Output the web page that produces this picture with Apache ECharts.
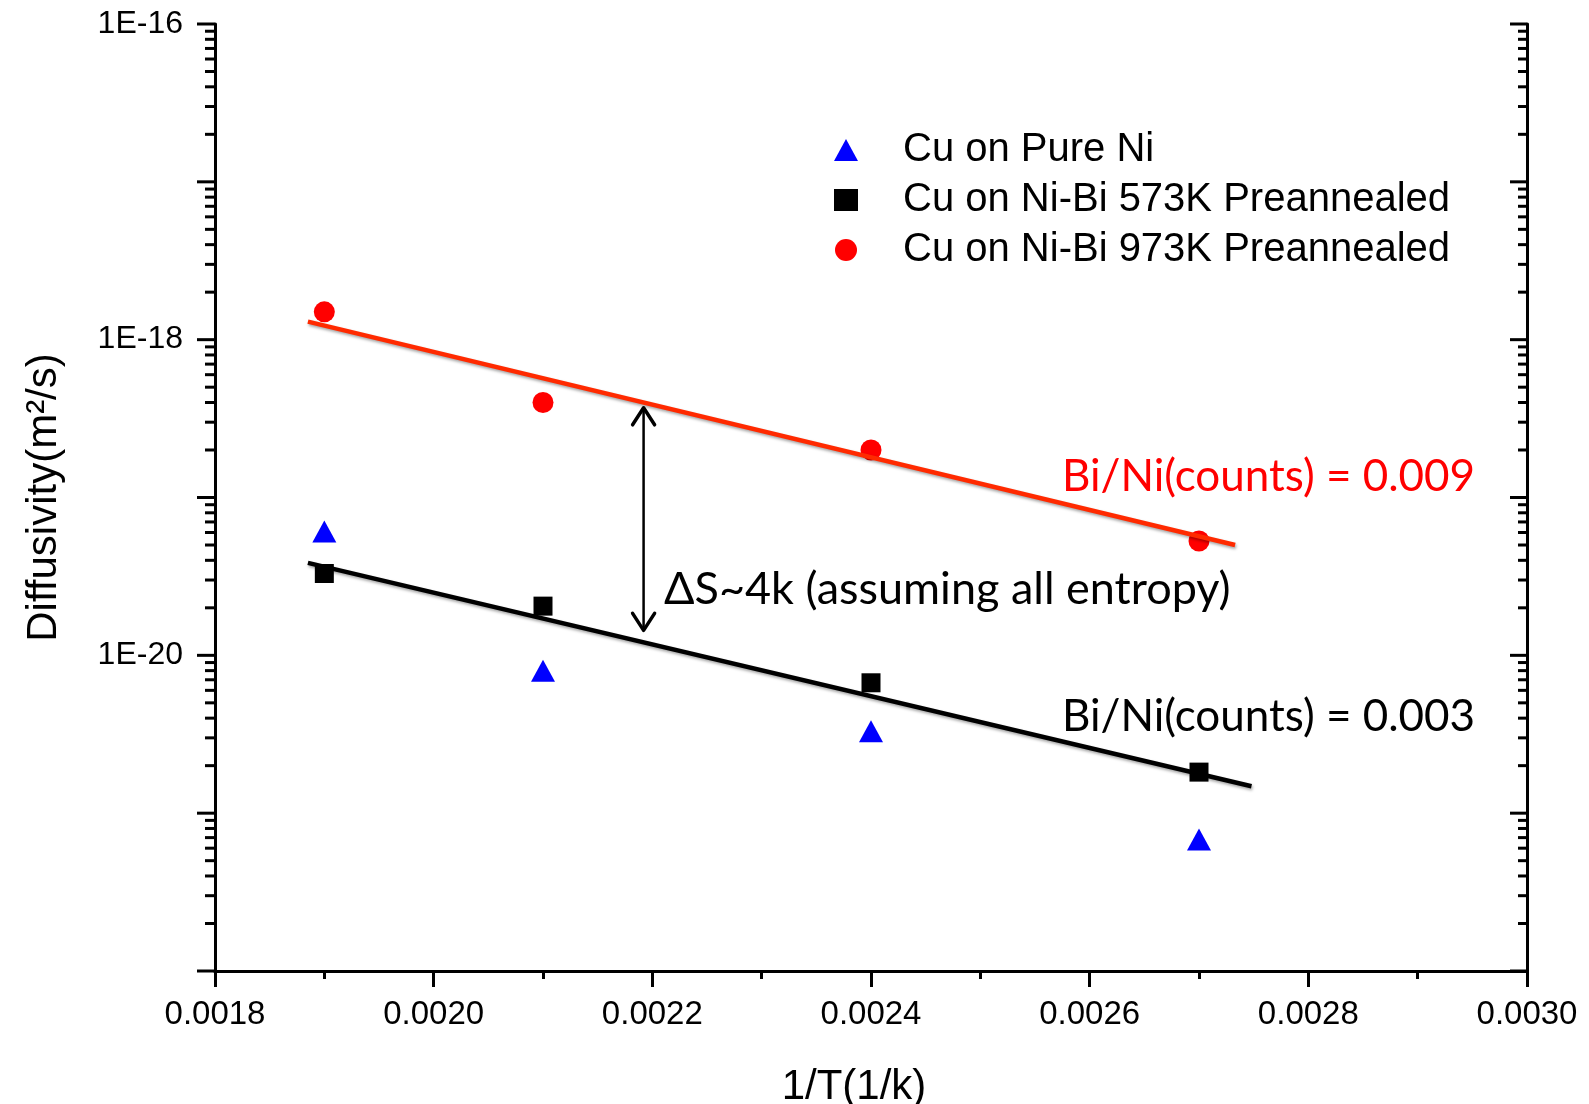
<!DOCTYPE html>
<html>
<head>
<meta charset="utf-8">
<title>Diffusivity vs 1/T</title>
<script src="https://cdn.jsdelivr.net/npm/echarts@6/dist/echarts.min.js"></script>
<style>
  html, body { margin: 0; padding: 0; background: #fff; }
  #chart { width: 1589px; height: 1104px; }
</style>
</head>
<body>
<div id="chart"></div>
<script>
// measured points, x = 1/T (1/K), y = diffusivity (m^2/s)
var invT = [0.0019, 0.0021, 0.0024, 0.0027];
var pureNi = [6.1e-20, 8.0e-21, 3.3e-21, 6.8e-22];
var niBi573 = [3.3e-20, 2.05e-20, 6.7e-21, 1.82e-21];
var niBi973 = [1.5e-18, 4.0e-19, 2.0e-19, 5.3e-20];

// fitted lines, read as end points
var fit973 = [[0.001885, 1.3e-18], [0.002733, 5.0e-20]];
var fit573 = [[0.001885, 3.85e-20], [0.002748, 1.48e-21]];

// the double arrow between the fits: x, top, bottom
var gapArrow = [[0.002192, 3.7e-19, 1.44e-20]];

var xMin = 0.0018, xMax = 0.0030, xStep = 0.0002;
var yMinExp = -22, yMaxExp = -16;

var FONT = '"Liberation Sans", Arial, sans-serif';
var NOTE_FONT = '44px Lato, "Open Sans", sans-serif';

function pairs(xs, ys) {
  return xs.map(function (x, i) { return [x, ys[i]]; });
}

// log ticks: every decade is a long tick, 2..9 are short ones
var yTicks = [];
for (var e = yMinExp; e <= yMaxExp; e++) {
  yTicks.push([xMin, Math.pow(10, e), 1]);
  if (e < yMaxExp) {
    for (var m = 2; m <= 9; m++) yTicks.push([xMin, m * Math.pow(10, e), 0]);
  }
}

var chart = echarts.init(document.getElementById('chart'));

var option = {
  animation: false,
  backgroundColor: '#fff',
  grid: { left: 215, right: 62, top: 24, bottom: 133, containLabel: false, outerBoundsMode: 'none' },
  legend: {
    orient: 'vertical',
    left: 829,
    top: 125,
    itemWidth: 24,
    itemHeight: 22,
    itemGap: 10,
    textStyle: { fontFamily: FONT, fontSize: 40, color: '#000', padding: [0, 0, 0, 40] },
    data: ['Cu on Pure Ni', 'Cu on Ni-Bi 573K Preannealed', 'Cu on Ni-Bi 973K Preannealed']
  },
  xAxis: [
    {
      type: 'value',
      position: 'bottom',
      min: xMin, max: xMax, interval: xStep,
      name: '1/T(1/k)',
      nameLocation: 'middle',
      nameGap: 95,
      nameMoveOverlap: false,
      nameTextStyle: { fontFamily: FONT, fontSize: 42, color: '#000', padding: [0, 34, 0, 0] },
      axisLine: { lineStyle: { color: '#000', width: 3 } },
      axisTick: { inside: false, length: 16, lineStyle: { color: '#000', width: 3 } },
      minorTick: { show: true, splitNumber: 2, length: 8, lineStyle: { color: '#000', width: 3 } },
      axisLabel: {
        margin: 27, fontFamily: FONT, fontSize: 33, color: '#000',
        showMinLabel: true, showMaxLabel: true,
        formatter: function (v) { return v.toFixed(4); }
      },
      splitLine: { show: false }
    },
    {
      type: 'value',
      position: 'top',
      min: xMin, max: xMax, interval: xStep,
      axisLine: { lineStyle: { color: '#000', width: 3 } },
      axisTick: { inside: true, length: 14, lineStyle: { color: '#000', width: 3 } },
      minorTick: { show: true, splitNumber: 2, length: 8, lineStyle: { color: '#000', width: 3 } },
      axisLabel: { show: false },
      splitLine: { show: false }
    }
  ],
  yAxis: [
    {
      type: 'log',
      logBase: 10,
      position: 'left',
      min: Math.pow(10, yMinExp), max: Math.pow(10, yMaxExp),
      splitNumber: 6,
      name: 'Diffusivity(m\u00b2/s)',
      nameLocation: 'middle',
      nameRotate: 90,
      nameGap: 150,
      nameMoveOverlap: false,
      nameTextStyle: { fontFamily: FONT, fontSize: 42, color: '#000' },
      axisLine: { lineStyle: { color: '#000', width: 3 } },
      axisTick: { show: false },
      axisLabel: {
        margin: 32, fontFamily: FONT, fontSize: 32, color: '#000',
        showMinLabel: true, showMaxLabel: true,
        formatter: function (v) {
          var p = Math.round(Math.log10(v));
          return p % 2 === 0 ? '1E' + p : '';
        }
      },
      splitLine: { show: false }
    },
    {
      type: 'log',
      logBase: 10,
      position: 'right',
      min: Math.pow(10, yMinExp), max: Math.pow(10, yMaxExp),
      splitNumber: 6,
      axisLine: { lineStyle: { color: '#000', width: 3 } },
      axisTick: { show: false },
      axisLabel: { show: false },
      splitLine: { show: false }
    }
  ],
  graphic: [
    {
      type: 'text', x: 664, y: 589,
      style: { text: '\u0394S~4k (assuming all entropy)', fill: '#000', font: '45px Lato, "Open Sans", sans-serif', verticalAlign: 'middle' }
    },
    {
      type: 'text', x: 1062, y: 477,
      style: { text: 'Bi/Ni(counts) = 0.009', fill: '#ff0000', font: NOTE_FONT, verticalAlign: 'middle' }
    },
    {
      type: 'text', x: 1062, y: 717,
      style: { text: 'Bi/Ni(counts) = 0.003', fill: '#000', font: NOTE_FONT, verticalAlign: 'middle' }
    }
  ],
  series: [
    {
      name: 'Cu on Pure Ni',
      type: 'scatter',
      symbol: 'triangle',
      symbolSize: [24, 22],
      itemStyle: { color: '#0000ff', opacity: 1 },
      data: pairs(invT, pureNi),
      z: 3
    },
    {
      name: 'Cu on Ni-Bi 573K Preannealed',
      type: 'scatter',
      symbol: 'rect',
      symbolSize: 19,
      itemStyle: { color: '#000', opacity: 1 },
      data: pairs(invT, niBi573),
      z: 3
    },
    {
      name: 'Cu on Ni-Bi 973K Preannealed',
      type: 'scatter',
      symbol: 'circle',
      symbolSize: 21,
      itemStyle: { color: '#ff0000', opacity: 1 },
      data: pairs(invT, niBi973),
      z: 3
    },
    {
      name: 'fit 973',
      type: 'line',
      showSymbol: false,
      lineStyle: { color: '#ff2a00', width: 4.5, shadowColor: 'rgba(0,0,0,0.35)', shadowBlur: 3, shadowOffsetX: 1, shadowOffsetY: 2 },
      data: fit973,
      z: 4
    },
    {
      name: 'fit 573',
      type: 'line',
      showSymbol: false,
      lineStyle: { color: '#000', width: 4.5, shadowColor: 'rgba(0,0,0,0.35)', shadowBlur: 3, shadowOffsetX: 1, shadowOffsetY: 2 },
      data: fit573,
      z: 4
    },
    {
      // double headed arrow showing the gap between the two fits
      name: 'gap',
      type: 'custom',
      data: gapArrow,
      encode: { x: 0, y: 1 },
      renderItem: function (params, api) {
        var top = api.coord([api.value(0), api.value(1)]);
        var bot = api.coord([api.value(0), api.value(2)]);
        var w = 11, h = 17;
        var s = { stroke: '#000', lineWidth: 3.5, fill: null, lineCap: 'round', lineJoin: 'round' };
        return {
          type: 'group',
          children: [
            { type: 'line', shape: { x1: top[0], y1: top[1], x2: bot[0], y2: bot[1] }, style: { stroke: '#000', lineWidth: 2.5 } },
            { type: 'polyline', shape: { points: [[top[0] - w, top[1] + h], [top[0], top[1]], [top[0] + w, top[1] + h]] }, style: s },
            { type: 'polyline', shape: { points: [[bot[0] - w, bot[1] - h], [bot[0], bot[1]], [bot[0] + w, bot[1] - h]] }, style: s }
          ]
        };
      },
      z: 5
    },
    {
      // log ticks on the left (outside) and right (inside) frame
      name: 'yticks',
      type: 'custom',
      data: yTicks,
      encode: { x: 0, y: 1 },
      clip: false,
      silent: true,
      renderItem: function (params, api) {
        var major = api.value(2) === 1;
        var pl = api.coord([xMin, api.value(1)]);
        var pr = api.coord([xMax, api.value(1)]);
        var lenL = major ? 18 : 10, lenR = major ? 17 : 9;
        var st = { stroke: '#000', lineWidth: 3 };
        return {
          type: 'group',
          children: [
            { type: 'line', shape: { x1: pl[0] - lenL, y1: pl[1], x2: pl[0], y2: pl[1] }, style: st },
            { type: 'line', shape: { x1: pr[0] - lenR, y1: pr[1], x2: pr[0], y2: pr[1] }, style: st }
          ]
        };
      },
      z: 2
    }
  ]
};

chart.setOption(option);
</script>
</body>
</html>
